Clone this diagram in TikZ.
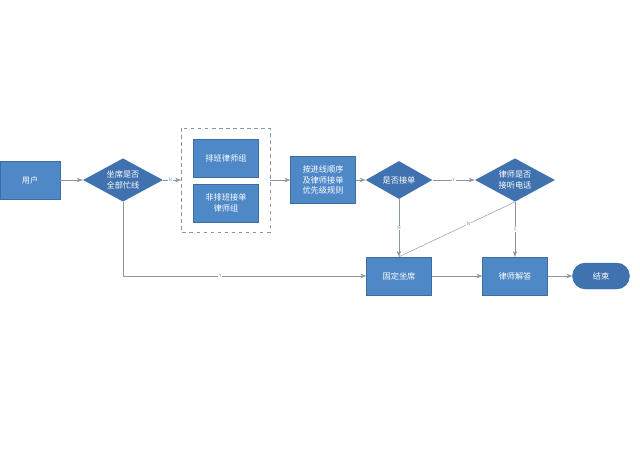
\documentclass[tikz,border=0pt]{standalone}
\usepackage{fontspec}
\setmainfont{Noto Sans CJK SC}
\usetikzlibrary{shapes.geometric,arrows.meta}
\definecolor{boxBlue}{HTML}{4E88C7}
\definecolor{diaBlue}{HTML}{3F72AE}
\definecolor{lineGray}{HTML}{8A96A3}
\tikzset{
  box/.style={draw=boxBlue!80!black, fill=boxBlue, text=white, minimum width=1.95cm, minimum height=1.14cm, inner sep=1pt, align=center, font=\fontsize{7}{9}\selectfont},
  dia/.style={diamond, aspect=1.85, fill=diaBlue, text=white, inner sep=0pt, align=center, font=\fontsize{7}{9}\selectfont},
  link/.style={draw=lineGray, -{Stealth[length=5pt]}},
  lbl/.style={font=\fontsize{4}{4}\selectfont, text=lineGray, fill=white, inner sep=0.5pt}
}
\begin{document}
\begin{tikzpicture}[x=0.03cm,y=-0.03cm]
			\useasboundingbox (0,0) rectangle (640,462);
			% Boxes
			\node[box, minimum width=1.8cm] (user) at (30,180) {用户};
			\node[dia, minimum width=2.4cm, minimum height=1.3cm] (busy) at (123,180) {坐席是否\\全部忙线};
			\node[box] (sched) at (226,158) {排班律师组};
			\node[box] (free) at (226,203) {非排班接单\\律师组};
			\draw[lineGray, dashed, thick] (181,128) rectangle (270,232);
			\coordinate (grpL) at (181,180);
			\coordinate (grpR) at (270,180);
			\node[box, minimum height=1.41cm] (rule) at (323,180) {按进线顺序\\及律师接单\\优先级规则};
			\node[dia, minimum width=2.0cm, minimum height=1.14cm] (take) at (399,180) {是否接单};
			\node[dia, minimum width=2.4cm, minimum height=1.3cm] (answer) at (515,180) {律师是否\\接听电话};
			\node[box] (fixed) at (399,276) {固定坐席};
			\node[box] (solve) at (515,276) {律师解答};
			\node[box, rounded corners=0.39cm, fill=diaBlue, minimum width=1.71cm, minimum height=0.78cm] (done) at (601,276) {结束};

			% Connectors
			\draw[link] (user) -- (busy);
			\draw[link] (busy) -- node[lbl, pos=0.4] {N} (grpL);
			\draw[link] (grpR) -- (rule);
			\draw[link] (rule) -- (take);
			\draw[link] (take) -- node[lbl] {Y} (answer);
			\draw[link] (take) -- node[lbl] {N} (fixed);
			\draw[draw=lineGray] (answer.south) -- node[lbl, pos=0.4] {N} (fixed.north);
			\draw[link] (answer) -- node[lbl] {Y} (solve);
			\draw[link] (busy.south) |- node[lbl, pos=0.7] {Y} (fixed);
			\draw[link] (fixed) -- (solve);
			\draw[link] (solve) -- (done);
		\end{tikzpicture}
\end{document}
